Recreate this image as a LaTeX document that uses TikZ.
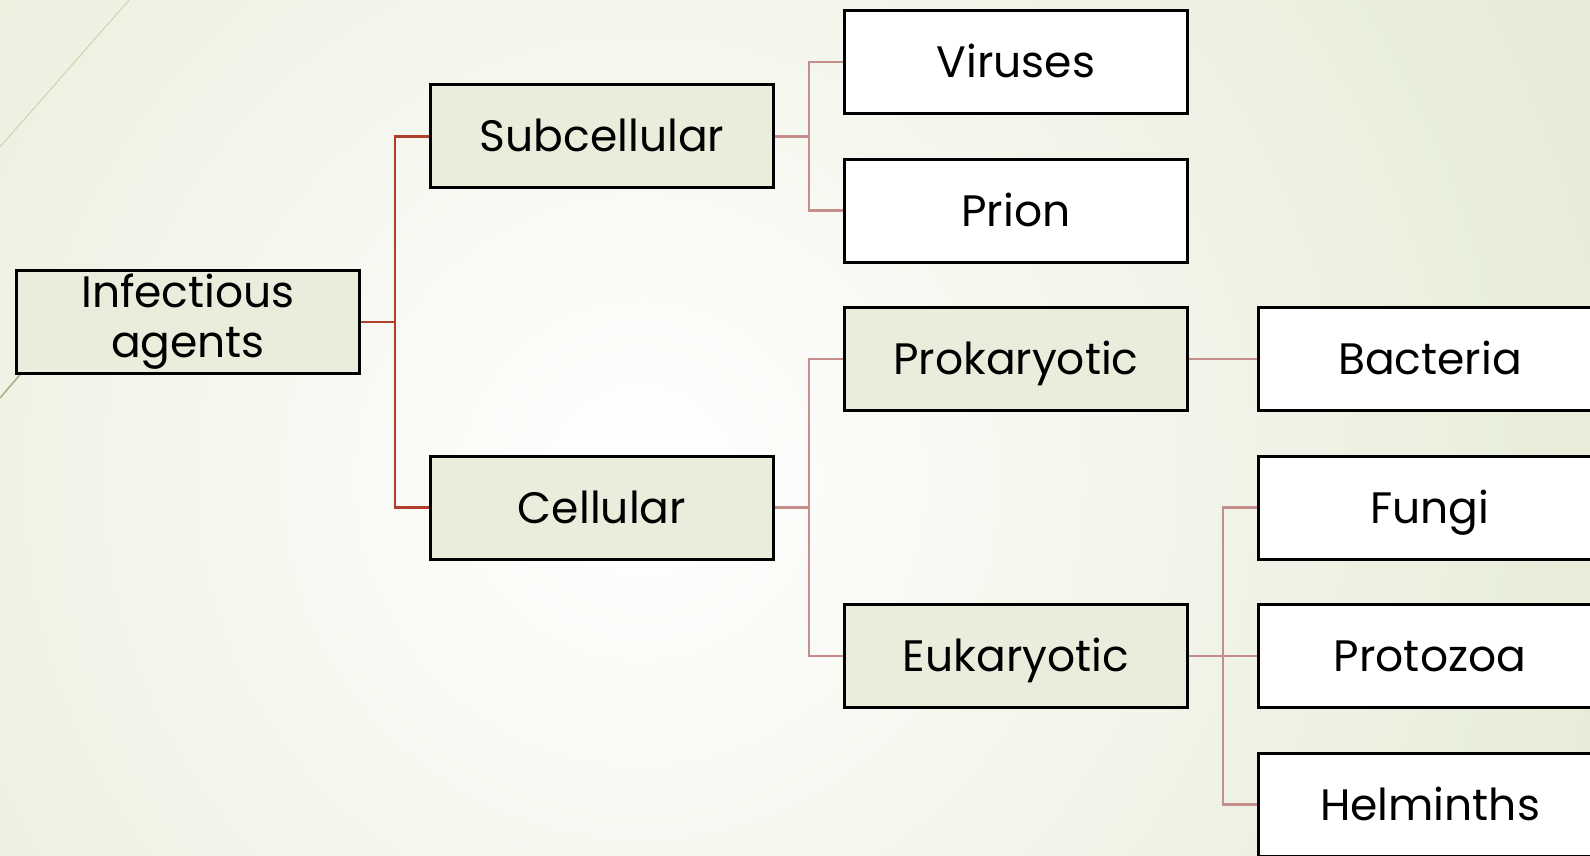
\documentclass[tikz,border=0pt]{standalone}
\usepackage{fontspec}
\setmainfont{Poppins}
\usetikzlibrary{positioning, calc, backgrounds}

\definecolor{slidebg}{RGB}{230,236,215}
\definecolor{boxgreen}{RGB}{233,238,220}
\definecolor{linkdark}{RGB}{176,62,44}
\definecolor{linklight}{RGB}{198,142,138}

\begin{document}
\begin{tikzpicture} [
    x=1pt, y=1pt,
    node distance=42.5pt and 68pt,
    group/.style={rectangle, draw=black, line width=3pt, fill=boxgreen, minimum width=343pt, minimum height=103pt, inner sep=0pt, font=\fontsize{44}{50}\selectfont, text height=31pt, text depth=0pt, align=center},
    leaf/.style={group, fill=white},
    link/.style={line width=2.6pt, linklight},
    toplink/.style={link, linkdark}
]
\useasboundingbox (0,0) rectangle (1590,-855);

% Define all nodes first (foreground)
\node[leaf] (viruses) at (1016,-62) {Viruses};
\node[leaf, below=of viruses] (prion) {Prion};
\node[group, below=of prion] (prok) {Prokaryotic};
\node[leaf, right=of prok] (bacteria) {Bacteria};
\node[leaf, below=of bacteria] (fungi) {Fungi};
\node[leaf, below=of fungi] (protozoa) {Protozoa};
\node[leaf, below=of protozoa] (helminths) {Helminths};
\node[group, left=of protozoa] (euk) {Eukaryotic};

\coordinate (subc-mid) at ($(viruses.west)!0.5!(prion.west)$);
\node[group, left=of subc-mid] (subcellular) {Subcellular};
\coordinate (cell-mid) at ($(prok.west)!0.5!(euk.west)$);
\node[group, left=of cell-mid] (cellular) {Cellular};
\coordinate (inf-mid) at ($(subcellular.west)!0.5!(cellular.west)$);
\node[group, text height={}, text depth={}, left=of inf-mid] (infect) {Infectious\\agents};

% Slide background and connectors behind the boxes
\begin{scope}[on background layer]
    \fill[slidebg] (0,0) rectangle (1590,-855);
    \shade[inner color=white, outer color=slidebg] (640,-480) circle (1000pt);
    \draw[gray!55!olive!40, line width=1pt] (129,0) -- (0,-147);
    \draw[black!45!olive!50, line width=1.5pt] (24,-370) -- (0,-398);

    \draw[toplink] (infect.east) -- ++(34,0) |- (subcellular.west);
    \draw[toplink] (infect.east) -- ++(34,0) |- (cellular.west);
    \draw[link] (subcellular.east) -- ++(34,0) |- (viruses.west);
    \draw[link] (subcellular.east) -- ++(34,0) |- (prion.west);
    \draw[link] (cellular.east) -- ++(34,0) |- (prok.west);
    \draw[link] (cellular.east) -- ++(34,0) |- (euk.west);
    \draw[link] (prok.east) -- (bacteria.west);
    \draw[link] (euk.east) -- ++(34,0) |- (fungi.west);
    \draw[link] (euk.east) -- (protozoa.west);
    \draw[link] (euk.east) -- ++(34,0) |- (helminths.west);
\end{scope}

\end{tikzpicture}
\end{document}
